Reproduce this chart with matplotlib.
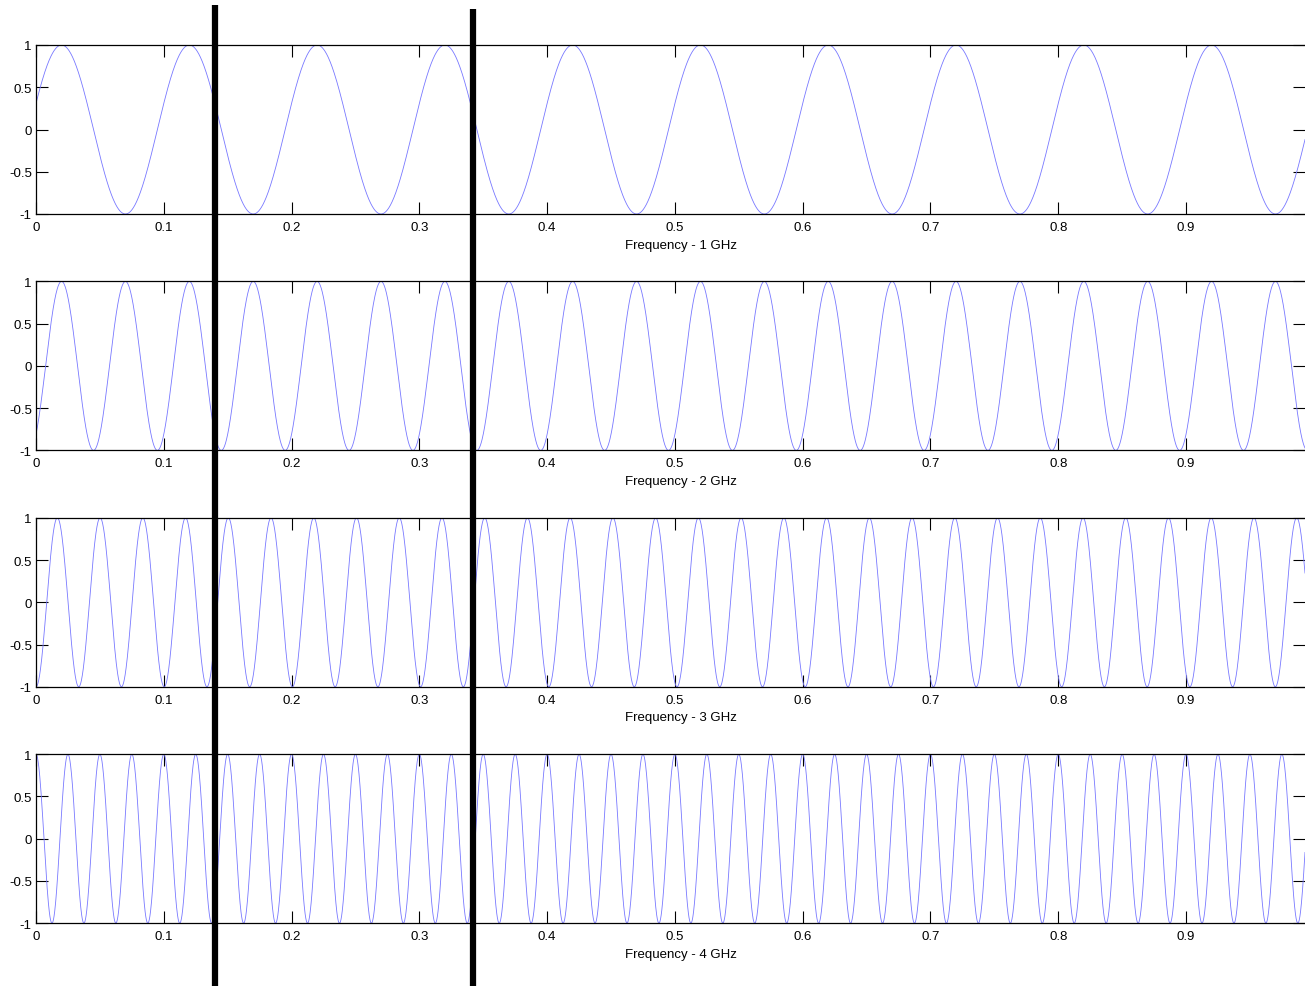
"""Four stacked sinusoids (1-4 GHz) with two black marker lines across all panels."""

import numpy as np
import matplotlib
matplotlib.use("Agg")
import matplotlib.pyplot as plt
from matplotlib.lines import Line2D

plt.rcParams["font.family"] = ["Liberation Sans", "DejaVu Sans"]

# data
LABELS = ["Frequency - 1 GHz", "Frequency - 2 GHz", "Frequency - 3 GHz", "Frequency - 4 GHz"]
CYCLES = [10, 20, 29.9, 40]             # cycles across the 0..1 span
PEAK_AT = [0.02, 0.02, 0.5 / 29.9, 0.0]  # position of the first crest
X_TICKS = [0, 0.1, 0.2, 0.3, 0.4, 0.5, 0.6, 0.7, 0.8, 0.9]
Y_TICKS = [-1, -0.5, 0, 0.5, 1]
Y_TICKLABELS = ["-1", "-0.5", "0", "0.5", "1"]
MARKERS = [0.140, 0.342]           # thick black vertical lines (x in data units)
X_MAX = 0.9931

W, H = 1305, 987
fig = plt.figure(figsize=(W / 100, H / 100), dpi=100)

t = np.linspace(0, X_MAX, 4000)
axes = []
for i, (lab, f, p) in enumerate(zip(LABELS, CYCLES, PEAK_AT)):
    top_px = 46 + i * 236.4
    ax = fig.add_axes([36 / W, 1 - (top_px + 169) / H, 1269 / W, 169 / H])
    ax.plot(t, np.cos(2 * np.pi * f * (t - p)), color="#7878ff", lw=0.6)
    ax.set_xlim(0, X_MAX)
    ax.set_ylim(-1, 1)
    ax.set_xticks(X_TICKS)
    ax.set_xticklabels([f"{v:g}" for v in X_TICKS])
    ax.set_yticks(Y_TICKS)
    ax.set_yticklabels(Y_TICKLABELS)
    ax.tick_params(direction="in", length=8.6, width=0.8, labelsize=9.5,
                   top=True, right=True, pad=3)
    ax.tick_params(axis="x", pad=5)
    ax.spines["right"].set_visible(False)
    for s in ["left", "top", "bottom"]:
        ax.spines[s].set_linewidth(0.9)
    ax.set_xlabel(lab, fontsize=9.5)
    ax.xaxis.set_label_coords((681 - 36) / 1269, -0.145)
    axes.append(ax)

# black marker lines spanning the whole figure
fig.canvas.draw()
for xm, y_top in zip(MARKERS, [6, 10]):
    xf = fig.transFigure.inverted().transform(axes[0].transData.transform((xm, 0)))[0]
    fig.add_artist(Line2D([xf, xf], [1 - y_top / H, 0], transform=fig.transFigure,
                          color="black", lw=4.5, solid_capstyle="butt"))

fig.savefig("out.png", dpi=100)
